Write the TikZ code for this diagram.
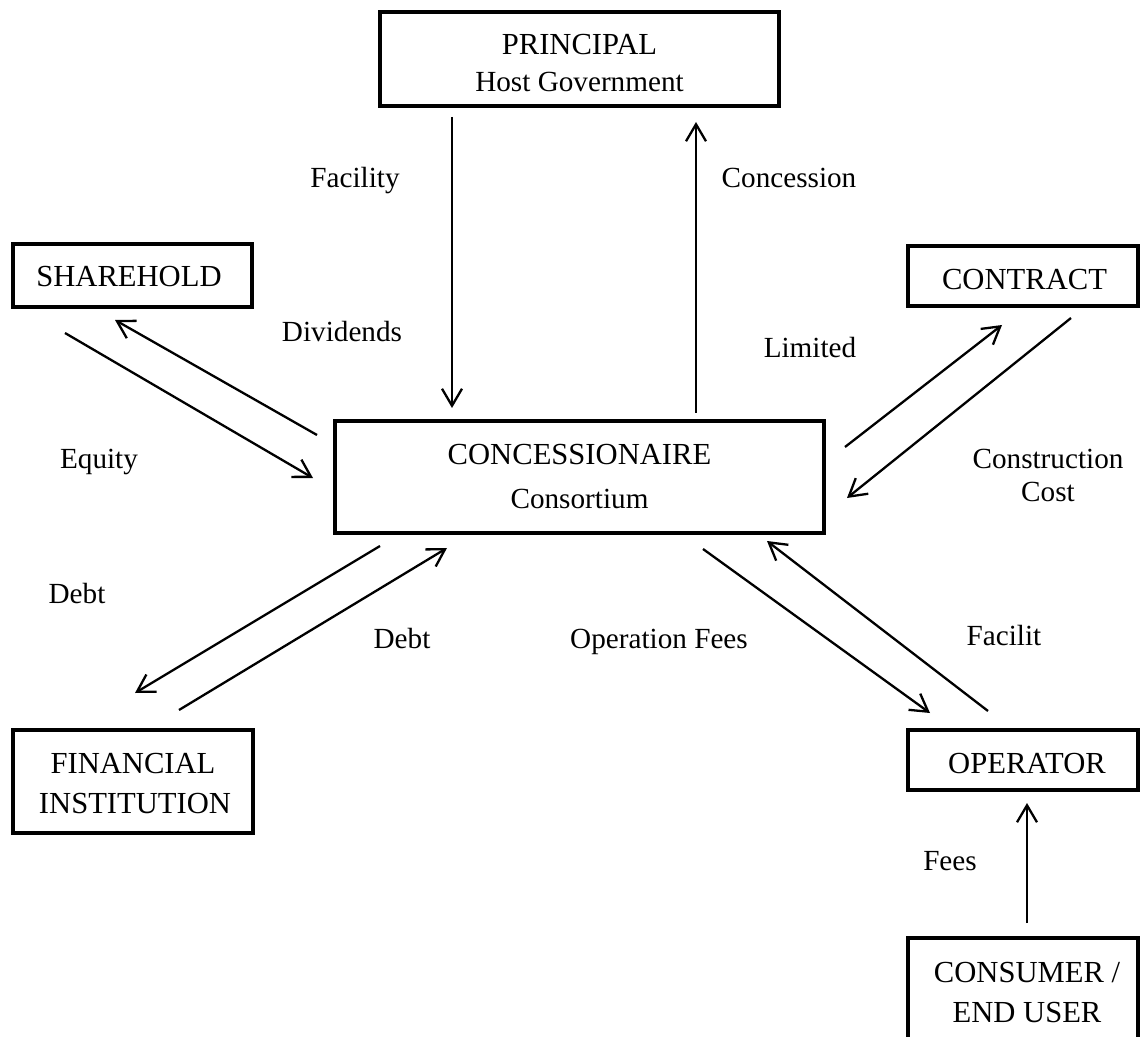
\documentclass[tikz,border=0pt]{standalone}
\usepackage{fontspec}
\setmainfont{Liberation Serif}
\usetikzlibrary{arrows.meta}
\begin{document}
\begin{tikzpicture}[x=0.5pt,y=-0.5pt,
  box/.style 2 args={draw, line width=2.35pt, rectangle, inner sep=0pt,
    minimum width=#1*0.5pt, minimum height=#2*0.5pt},
  capt/.style={anchor=base, inner sep=0pt, font=\fontsize{15.3}{17}\selectfont},
  lbl/.style={anchor=base, inner sep=0pt, font=\fontsize{14.6}{16}\selectfont},
  flow/.style={line width=1.15pt, -{Straight Barb[length=8.5pt,width=10pt]}}]
\useasboundingbox (0,0) rectangle (1140,1037);
\clip (0,0) rectangle (1140,1037);

% boxes
\node[box={399}{94}]  (prin)  at (579.5,59)   {};
\node[box={239}{63}]  (share) at (132.5,275.5) {};
\node[box={230}{60}]  (contr) at (1023,276)   {};
\node[box={489}{112}] (conc)  at (579.5,477)  {};
\node[box={240}{103}] (fin)   at (133,781.5)  {};
\node[box={230}{60}]  (oper)  at (1023,760)   {};
\node[box={230}{124}] (cons)  at (1023,1000)  {};

% box texts
\node[capt] (prinA) at (579.5,55) {PRINCIPAL};
\node[lbl]  (prinB) at (579.5,92) {Host Government};
\node[capt] (shareA) at (129,287) {SHAREHOLD};
\node[capt] (contrA) at (1024.5,290) {CONTRACT};
\node[capt] (concA) at (579.5,465) {CONCESSIONAIRE};
\node[lbl]  (concB) at (579.5,508) {Consortium};
\node[capt] (finA) at (133,773) {FINANCIAL};
\node[capt] (finB) at (135,813) {INSTITUTION};
\node[capt] (operA) at (1027,773) {OPERATOR};
\node[capt] (consA) at (1027,982) {CONSUMER /};
\node[capt] (consB) at (1027,1022) {END USER};

% connector end points
\coordinate (fac1) at (452,117);  \coordinate (fac2) at (452,408);
\coordinate (con1) at (696,413);  \coordinate (con2) at (696,122);
\coordinate (div1) at (317,435);  \coordinate (div2) at (115,320);
\coordinate (equ1) at (65,333);   \coordinate (equ2) at (313,478);
\coordinate (lim1) at (845,447);  \coordinate (lim2) at (1002,325);
\coordinate (cc1)  at (1071,318); \coordinate (cc2)  at (847,498);
\coordinate (dbA1) at (380,546);  \coordinate (dbA2) at (135,693);
\coordinate (dbB1) at (179,710);  \coordinate (dbB2) at (447,548);
\coordinate (of1)  at (703,549);  \coordinate (of2)  at (930,713);
\coordinate (fl1)  at (988,711);  \coordinate (fl2)  at (767,541);
\coordinate (fe1)  at (1027,923); \coordinate (fe2)  at (1027,803);

% connectors
\draw[flow] (fac1) -- (fac2);
\draw[flow] (con1) -- (con2);
\draw[flow] (div1) -- (div2);
\draw[flow] (equ1) -- (equ2);
\draw[flow] (lim1) -- (lim2);
\draw[flow] (cc1) -- (cc2);
\draw[flow] (dbA1) -- (dbA2);
\draw[flow] (dbB1) -- (dbB2);
\draw[flow] (of1) -- (of2);
\draw[flow] (fl1) -- (fl2);
\draw[flow] (fe1) -- (fe2);

% connector labels
\node[lbl] (lfac) at (355,188) {Facility};
\node[lbl] (lcon) at (789,188) {Concession};
\node[lbl] (ldiv) at (342,342) {Dividends};
\node[lbl] (lequ) at (99,468) {Equity};
\node[lbl] (llim) at (810,358) {Limited};
\node[lbl] (lcc1) at (1048,468) {Construction};
\node[lbl] (lcc2) at (1048,502) {Cost};
\node[lbl] (ldbA) at (77,603) {Debt};
\node[lbl] (ldbB) at (402,648) {Debt};
\node[lbl] (lof)  at (659,648) {Operation Fees};
\node[lbl] (lfl)  at (1004,645) {Facilit};
\node[lbl] (lfe)  at (950,870) {Fees};
\end{tikzpicture}
\end{document}
